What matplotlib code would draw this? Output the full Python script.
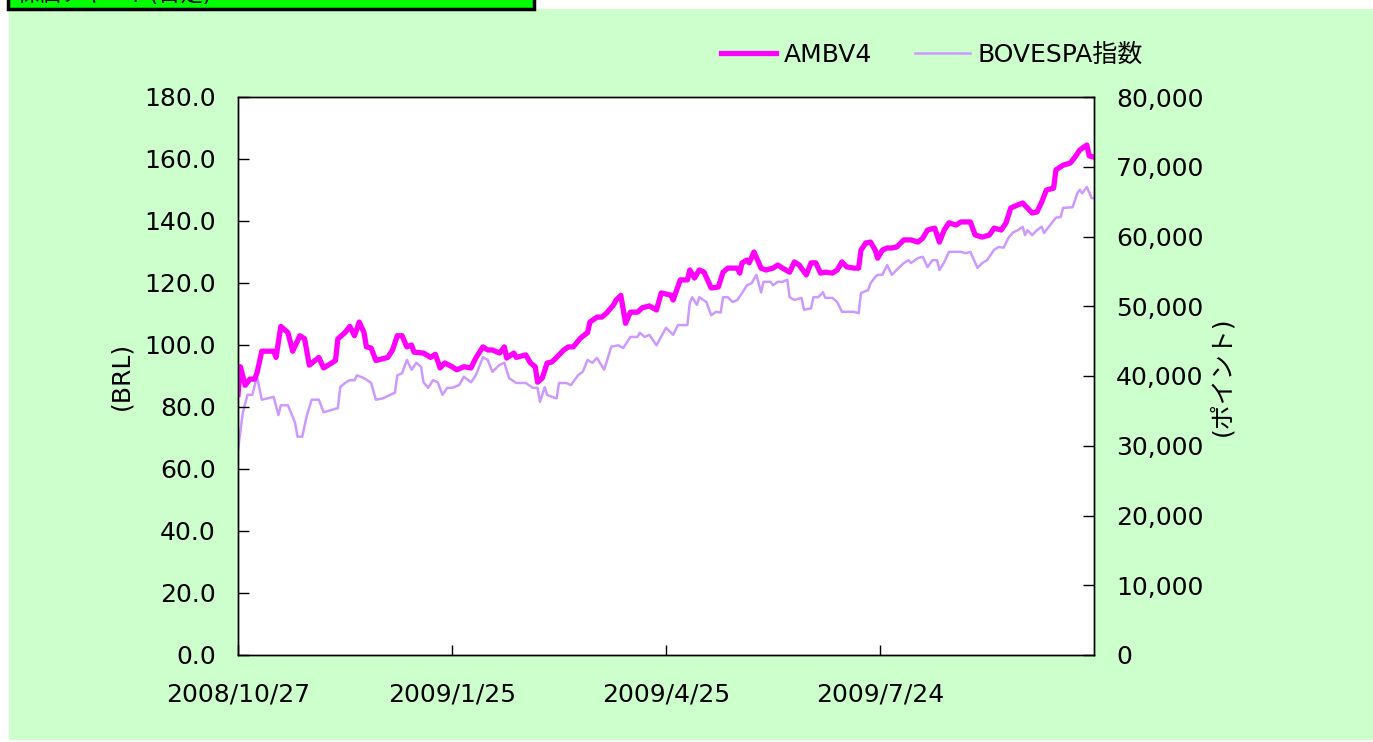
import numpy as np
import matplotlib
matplotlib.use("Agg")
import matplotlib.pyplot as plt
from matplotlib.patches import Rectangle
from matplotlib.ticker import FuncFormatter, MultipleLocator

plt.rcParams['font.family'] = ['DejaVu Sans', 'Noto Sans CJK JP']

start = np.datetime64('2008-10-27')

# AMBV4 close (BRL), days since 2008/10/27
ambv_days = [0, 1, 3, 5, 7, 8, 10, 15, 16, 18, 21, 23, 26, 28, 30, 34, 36, 39, 41, 42,
             45, 47, 49, 51, 53, 54, 56, 58, 63, 65, 67, 69, 71, 73, 74, 78, 81, 83, 85, 87,
             90, 92, 95, 98, 100, 103, 105, 107, 110, 112, 113, 116, 117, 121, 123, 125, 126, 128, 130, 132,
             134, 137, 139, 141, 144, 147, 148, 151, 153, 155, 158, 159, 161, 163, 165, 168, 170, 173, 176, 178,
             182, 183, 186, 189, 190, 192, 194, 196, 199, 202, 204, 206, 210, 211, 212, 214, 215, 217, 220, 222,
             225, 227, 229, 232, 234, 236, 239, 241, 243, 245, 247, 250, 252, 254, 256, 259, 261, 262, 264, 266,
             268, 269, 271, 273, 275, 277, 280, 283, 286, 288, 290, 293, 295, 297, 299, 302, 304, 308, 310, 313,
             316, 318, 321, 323, 325, 328, 330, 332, 334, 336, 338, 340, 343, 344, 347, 350, 352, 354, 357, 358,
             360]
ambv_vals = [84.0, 93.0, 87.0, 89.0, 89.0, 91.0, 98.0, 98.0, 96.0, 106.0, 104.0, 98.0, 103.0, 102.0, 93.5, 96.0, 92.6, 94.0, 95.0, 102.0,
             104.0, 106.0, 103.0, 107.4, 104.0, 99.4, 99.0, 95.0, 96.0, 98.4, 103.0, 103.0, 99.4, 100.0, 97.7, 97.4, 96.0, 97.0, 92.6, 94.2,
             93.0, 92.0, 93.0, 92.6, 95.8, 99.4, 98.4, 98.4, 97.4, 99.4, 95.8, 97.4, 96.0, 96.8, 94.2, 93.0, 88.0, 89.4, 94.2, 94.5,
             96.0, 98.4, 99.4, 99.4, 102.2, 104.0, 107.4, 109.0, 109.0, 110.3, 113.0, 114.5, 116.0, 107.0, 110.6, 110.6, 112.0, 112.6, 111.3, 116.8,
             116.1, 114.5, 121.0, 121.0, 124.2, 121.6, 124.2, 123.5, 118.4, 118.7, 123.5, 124.8, 124.8, 123.2, 126.5, 127.4, 126.5, 130.0, 124.8, 124.2,
             124.8, 125.8, 124.8, 123.5, 126.8, 125.8, 122.6, 126.5, 126.5, 123.2, 123.5, 123.2, 124.2, 126.8, 125.2, 124.8, 124.8, 130.6, 132.9, 133.2,
             130.6, 128.0, 130.6, 131.3, 131.3, 131.6, 133.9, 133.9, 133.2, 134.5, 137.1, 137.7, 133.2, 137.1, 139.4, 138.7, 139.7, 139.7, 135.5, 134.8,
             135.5, 137.7, 137.1, 139.4, 144.2, 145.2, 145.8, 144.2, 142.6, 142.9, 146.1, 150.0, 150.6, 156.5, 158.0, 158.7, 160.6, 162.9, 164.5, 161.0,
             160.6]

# BOVESPA index (points), days since 2008/10/27
bov_days = [0, 2, 4, 6, 8, 10, 15, 17, 18, 21, 24, 25, 27, 29, 31, 34, 36, 42, 43, 45,
            47, 49, 50, 53, 56, 58, 61, 64, 66, 67, 69, 71, 73, 75, 77, 78, 80, 82, 84, 86,
            88, 90, 93, 95, 98, 100, 103, 105, 107, 110, 112, 114, 117, 121, 124, 126, 127, 129, 130, 132,
            134, 135, 138, 140, 143, 145, 147, 149, 151, 152, 154, 157, 160, 162, 165, 168, 169, 171, 173, 176,
            180, 183, 185, 189, 190, 191, 193, 194, 197, 199, 201, 203, 204, 206, 208, 210, 212, 214, 216, 218,
            220, 221, 224, 225, 227, 229, 231, 232, 234, 237, 238, 241, 242, 244, 246, 247, 250, 252, 254, 259,
            261, 262, 265, 266, 268, 269, 271, 273, 275, 277, 280, 282, 283, 286, 288, 290, 292, 294, 295, 297,
            299, 304, 306, 308, 311, 313, 315, 318, 320, 322, 324, 326, 328, 330, 331, 332, 334, 336, 338, 339,
            341, 344, 346, 347, 351, 353, 354, 355, 357, 359, 360]
bov_vals = [29400, 34700, 37300, 37300, 39900, 36600, 37000, 34400, 35800, 35800, 33300, 31300, 31300, 34400, 36600, 36600, 34800, 35400, 38400, 39000,
            39400, 39400, 40100, 39700, 39000, 36600, 36800, 37300, 37600, 40100, 40400, 42300, 40900, 41900, 41300, 39100, 38300, 39400, 39100, 37300,
            38300, 38300, 38700, 39900, 39100, 40100, 42700, 42300, 40600, 41600, 41900, 39700, 39000, 39000, 38300, 38300, 36300, 38400, 37300, 37000,
            36800, 39000, 39000, 38700, 40100, 40600, 42300, 41900, 42600, 42000, 40900, 44200, 44400, 44000, 45600, 45600, 46200, 45600, 45900, 44400,
            46900, 45900, 47300, 47300, 50500, 51300, 50200, 51300, 50600, 48700, 49200, 49100, 51300, 51300, 50600, 50900, 51900, 53000, 53300, 54500,
            52000, 53500, 53500, 53000, 53500, 53500, 53800, 51300, 50900, 51200, 49500, 49700, 51300, 51300, 52000, 51200, 51200, 50600, 49200, 49200,
            49000, 51900, 52300, 53300, 54200, 54500, 54500, 55900, 54500, 55200, 56200, 56600, 56200, 56900, 57100, 55600, 56600, 56600, 55200, 56300,
            57800, 57800, 57600, 57800, 55500, 56200, 56600, 58100, 58500, 58400, 59800, 60600, 60900, 61400, 60200, 60900, 60200, 60900, 61400, 60500,
            61400, 62700, 62800, 64100, 64200, 66200, 66700, 66200, 67100, 65500, 65500]

tick_days = [0, 90, 180, 270]
tick_labels = ['2008/10/27', '2009/1/25', '2009/4/25', '2009/7/24']

W, H = 1373, 742
fig = plt.figure(figsize=(W / 100, H / 100), dpi=100)

# chart area background and title box
fig.patches.append(Rectangle((9 / W, 2 / H), 1 - 9 / W, 731 / H, transform=fig.transFigure,
                             facecolor='#CCFFCC', edgecolor='none', zorder=-2))
fig.patches.append(Rectangle((8 / W, 1 - 9 / H), 526 / W, 30 / H, transform=fig.transFigure,
                             facecolor='#00FF00', edgecolor='black', linewidth=2.5, zorder=5))
fig.text(16 / W, 1 + 6 / H, '株価チャート(日足)', fontsize=16, va='center', ha='left',
         color='black', zorder=6)

ax2 = fig.add_axes([238 / W, 87 / H, 856 / W, 558 / H])
ax2.set_facecolor('white')
ax = ax2.twinx()
ax.yaxis.tick_left()
ax.yaxis.set_label_position('left')
ax2.yaxis.tick_right()
ax2.yaxis.set_label_position('right')
ax.patch.set_visible(False)

ambv_x = start + np.array(ambv_days).astype('timedelta64[D]')
bov_x = start + np.array(bov_days).astype('timedelta64[D]')

l2, = ax2.plot(bov_x, bov_vals, color='#CC99FF', linewidth=1.8, label='BOVESPA指数')
l1, = ax.plot(ambv_x, ambv_vals, color='#FF00FF', linewidth=3.8, label='AMBV4')

ax2.set_xlim(start, start + np.timedelta64(360, 'D'))
ax.set_ylim(0, 180)
ax2.set_ylim(0, 80000)
ax.yaxis.set_major_locator(MultipleLocator(20))
ax2.yaxis.set_major_locator(MultipleLocator(10000))
ax.yaxis.set_major_formatter(FuncFormatter(lambda v, p: f'{v:.1f}'))
ax2.yaxis.set_major_formatter(FuncFormatter(lambda v, p: f'{int(v):,}'))

ax2.set_xticks(start + np.array(tick_days).astype('timedelta64[D]'))
ax2.set_xticklabels(tick_labels)

ax.tick_params(axis='y', direction='in', length=8, width=1, labelsize=18, pad=16)
ax2.tick_params(axis='y', direction='in', length=8, width=1, labelsize=18, pad=16)
ax2.tick_params(axis='x', direction='in', length=7, width=1, labelsize=18, pad=20)
for a in (ax, ax2):
    for s in a.spines.values():
        s.set_linewidth(1)
        s.set_color('black')

ax.set_ylabel('(BRL)', fontsize=18, labelpad=8)
ax2.set_ylabel('(ポイント)', fontsize=18, labelpad=4, rotation=90)

fig.legend([l1, l2], ['AMBV4', 'BOVESPA指数'], loc='center', bbox_to_anchor=(932 / W, 1 - 55 / H),
           ncol=2, frameon=False, fontsize=18, handlelength=2.2, handletextpad=0.3,
           columnspacing=1.7)

fig.savefig('out.png', dpi=100, facecolor='white')
